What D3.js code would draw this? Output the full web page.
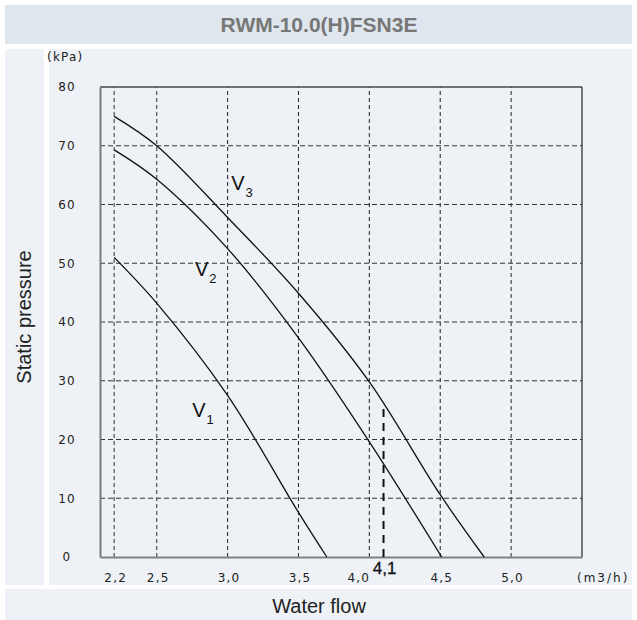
<!DOCTYPE html>
<html>
<head>
<meta charset="utf-8">
<script src="https://cdn.jsdelivr.net/npm/d3@7"></script>
<style>
  html, body { margin: 0; padding: 0; background: #ffffff; }
  svg { display: block; }
</style>
</head>
<body>
<svg id="chart" width="637" height="620"></svg>
<script>
// Pump curves: available static pressure (kPa) versus water flow (m3/h)
const chartTitle = "RWM-10.0(H)FSN3E";

const flowV1 = [2.2, 2.5, 3.0, 3.5, 3.7];
const pressV1 = [51, 43.2, 27.5, 7.6, 0];

const flowV2 = [2.2, 2.5, 3.0, 3.5, 4.0, 4.51];
const pressV2 = [69.3, 64.3, 52.5, 37.3, 19.6, 0];

const flowV3 = [2.2, 2.5, 3.0, 3.5, 4.0, 4.5, 4.81];
const pressV3 = [75, 70, 57.8, 44.9, 29.8, 10.6, 0];

const seriesNames = ["V1", "V2", "V3"];
const xTicks = [2.2, 2.5, 3.0, 3.5, 4.0, 4.5, 5.0];
const yTicks = [0, 10, 20, 30, 40, 50, 60, 70, 80];

// Rated operating point
const ratedFlow = 4.1;
const ratedPressure = 26.2;

const svg = d3.select("#chart");

// Background panels
svg.append("rect").attr("x", 5).attr("y", 5).attr("width", 627).attr("height", 39).attr("fill", "#dfe6ee");
svg.append("rect").attr("x", 5).attr("y", 49).attr("width", 39).attr("height", 536).attr("fill", "#eef2f6");
svg.append("rect").attr("x", 49).attr("y", 49).attr("width", 583).attr("height", 536).attr("fill", "#eef2f6");
svg.append("rect").attr("x", 5).attr("y", 589).attr("width", 627).attr("height", 31).attr("fill", "#eef2f6");

svg.append("text")
  .attr("x", 319).attr("y", 32)
  .attr("text-anchor", "middle")
  .attr("font-family", "Liberation Sans, Arial, sans-serif")
  .attr("font-weight", "bold")
  .attr("font-size", 21)
  .attr("fill", "#777777")
  .text(chartTitle);

svg.append("text")
  .attr("transform", "translate(31,317) rotate(-90)")
  .attr("text-anchor", "middle")
  .attr("font-family", "Liberation Sans, Arial, sans-serif")
  .attr("font-size", 20)
  .attr("fill", "#222")
  .text("Static pressure");

svg.append("text")
  .attr("x", 319).attr("y", 613)
  .attr("text-anchor", "middle")
  .attr("font-family", "Liberation Sans, Arial, sans-serif")
  .attr("font-size", 20)
  .attr("fill", "#222")
  .text("Water flow");

const x = d3.scaleLinear().domain([2.1, 5.5]).range([100, 582]);
const y = d3.scaleLinear().domain([0, 80]).range([557, 87]);

const tickFont = "DejaVu Sans, Verdana, sans-serif";

// Grid lines
const grid = svg.append("g");
grid.selectAll("line.h").data(yTicks.filter(d => d > 0 && d < 80)).join("line")
  .attr("x1", x.range()[0]).attr("x2", x.range()[1])
  .attr("y1", d => y(d)).attr("y2", d => y(d))
  .attr("stroke", "#333").attr("stroke-width", 1.1)
  .attr("stroke-dasharray", "5,3");
grid.selectAll("line.v").data(xTicks).join("line")
  .attr("x1", d => x(d)).attr("x2", d => x(d))
  .attr("y1", y(0)).attr("y2", y(80))
  .attr("stroke", d => d < 3 ? "#666" : "#333").attr("stroke-width", d => d < 3 ? 1.4 : 1.1)
  .attr("stroke-dasharray", "4,3");

// Frame
svg.append("line").attr("x1", x.range()[0]).attr("x2", x.range()[1]).attr("y1", y(80)).attr("y2", y(80))
  .attr("stroke", "#444").attr("stroke-width", 1.6);
svg.append("line").attr("x1", x.range()[1]).attr("x2", x.range()[1]).attr("y1", y(80)).attr("y2", y(0))
  .attr("stroke", "#222").attr("stroke-width", 1.2);

// Axes
const xAxis = svg.append("g")
  .attr("transform", `translate(0,${y(0)})`)
  .call(d3.axisBottom(x).tickValues(xTicks).tickSize(0).tickPadding(0)
    .tickFormat(d => d.toFixed(1).replace(".", ",")));
xAxis.select(".domain").attr("stroke", "#808080").attr("stroke-width", 2);
xAxis.selectAll("text")
  .attr("font-family", tickFont).attr("font-size", 12).attr("letter-spacing", 1.2)
  .attr("fill", "#222").attr("dy", null).attr("y", 25)
  .attr("dx", d => d === 4.0 ? -11 : 1);

const yAxis = svg.append("g")
  .attr("transform", `translate(${x.range()[0]},0)`)
  .call(d3.axisLeft(y).tickValues(yTicks).tickSize(0).tickPadding(0));
yAxis.select(".domain").attr("stroke", "#7a7a7a").attr("stroke-width", 2);
yAxis.selectAll("text")
  .attr("font-family", tickFont).attr("font-size", 12).attr("letter-spacing", 1.2)
  .attr("fill", "#222").attr("text-anchor", "middle").attr("x", -33);

// Units
svg.append("text").attr("x", 47).attr("y", 61)
  .attr("font-family", tickFont).attr("font-size", 12).attr("letter-spacing", 1.2).attr("fill", "#222")
  .text("(kPa)");
svg.append("text").attr("x", 577).attr("y", 582)
  .attr("font-family", tickFont).attr("font-size", 12).attr("letter-spacing", 2).attr("fill", "#222")
  .text("(m3/h)");

// Curves
const curves = [
  { name: seriesNames[0], flow: flowV1, press: pressV1, lx: 2.75, ly: 23.8 },
  { name: seriesNames[1], flow: flowV2, press: pressV2, lx: 2.77, ly: 47.8 },
  { name: seriesNames[2], flow: flowV3, press: pressV3, lx: 3.025, ly: 62.5 }
];
const line = d3.line().x(d => x(d[0])).y(d => y(d[1])).curve(d3.curveCatmullRom.alpha(0.5));

svg.append("g").selectAll("path").data(curves).join("path")
  .attr("d", c => line(d3.zip(c.flow, c.press)))
  .attr("fill", "none").attr("stroke", "#111").attr("stroke-width", 1.3);

const lbl = svg.append("g").selectAll("text").data(curves).join("text")
  .attr("x", c => x(c.lx)).attr("y", c => y(c.ly))
  .attr("font-family", "Liberation Sans, Arial, sans-serif").attr("fill", "#111");
lbl.append("tspan").attr("font-size", 20).text(c => c.name[0]);
lbl.append("tspan").attr("font-size", 13).attr("dx", 1).attr("dy", 7).text(c => c.name.slice(1));

// Rated point marker
svg.append("line")
  .attr("x1", x(ratedFlow)).attr("x2", x(ratedFlow))
  .attr("y1", y(0)).attr("y2", y(ratedPressure))
  .attr("stroke", "#111").attr("stroke-width", 2)
  .attr("stroke-dasharray", "8,6");
svg.append("text")
  .attr("x", x(ratedFlow) + 1).attr("y", 574)
  .attr("text-anchor", "middle")
  .attr("font-family", "Liberation Sans, Arial, sans-serif")
  .attr("font-size", 17).attr("fill", "#111")
  .attr("stroke", "#111").attr("stroke-width", 0.3)
  .text(String(ratedFlow).replace(".", ","));
</script>
</body>
</html>
